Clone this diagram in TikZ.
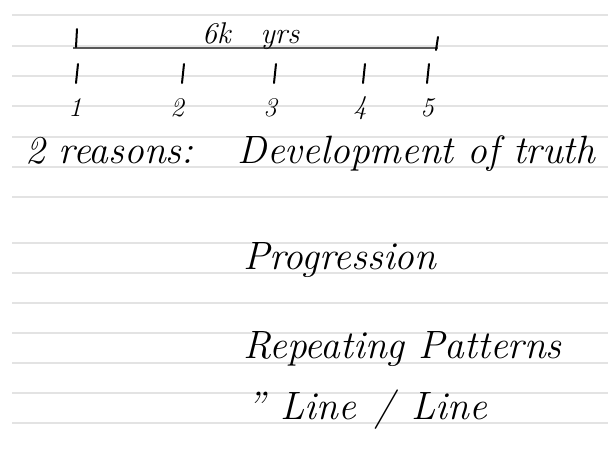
\documentclass[tikz,border=0pt]{standalone}
\usepackage{tikz}
\usetikzlibrary{calc,positioning}
\tikzset{
    x=1pt, y=-1pt, semithick,
    rule/.style = {draw=black!11, line width=1.6pt},
    hand/.style = {inner sep=0pt, font=\fontsize{39.5}{46}\selectfont\itshape},
    small/.style = {inner sep=0pt, font=\fontsize{30}{36}\selectfont\itshape},
    num/.style = {inner sep=0pt, font=\fontsize{27}{32}\selectfont\itshape},
    tickmark/.style = {draw=black, line width=2pt, line cap=round},
    timeline/.style = {draw=black!65, line width=1.5pt}
}

\begin{document}
\begin{tikzpicture}
    \useasboundingbox[fill=white] (0,0) rectangle (608,451);
    % Ruled paper
    \foreach \y in {15,46,76,106,137,167,197,243,273,303,333,363,393,423}
        \draw[rule] (12,\y) -- (608,\y);
    % The time line
    \coordinate (begin) at (73,48);
    \coordinate (end) at (438,48);
    \draw[timeline] (begin) -- (end);
    \draw[tickmark] ($(begin)+(4,-19)$) -- ($(begin)+(3,-1)$);
    \draw[tickmark] ($(end)+(0,-11)$) -- ($(end)+(-2,2)$);
    \node[small,anchor=base west] (span) at (202,43) {6k\quad yrs};
    % Label the five points
    \node[num] (one)   at (75,108)  {1};
    \node[num] (two)   at (177,108) {2};
    \node[num] (three) at (270,108) {3};
    \node[num] (four)  at (360,108) {4};
    \node[num] (five)  at (427,108) {5};
    \foreach \x in {77,183,275,364,428}
        \draw[tickmark] (\x+1,64) -- (\x-1,83);
    % The reasons
    \node[hand,anchor=base west] (reasons) at (25,163) {2 reasons:};
    \node[hand] (truth) [base right=44pt of reasons] {Development of truth};
    \node[hand,anchor=base west] (progression) at (243,269) {Progression};
    \node[hand,anchor=base west] (patterns) at (243,358) {Repeating Patterns};
    \node[hand,anchor=base west] (line) at (246,419)
        {''\hspace{2pt} Line\hspace{4pt} /\hspace{4pt} Line};
\end{tikzpicture}
\end{document}
